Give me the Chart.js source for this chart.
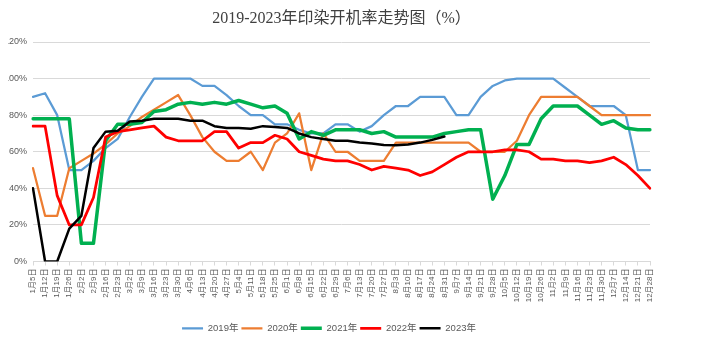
<!DOCTYPE html>
<html>
<head>
<meta charset="utf-8">
<script src="https://cdn.jsdelivr.net/npm/chart.js@4.4.0/dist/chart.umd.min.js"></script>
<style>
  html, body { margin: 0; padding: 0; background: #fff; }
  #wrap { position: absolute; left: 8px; top: 0; width: 699px; height: 349px; overflow: hidden; }
  #box { position: absolute; left: -12px; top: 0; width: 711px; height: 349px; }
</style>
</head>
<body>
<div id="wrap"><div id="box"><canvas id="c"></canvas></div></div>
<script>
// Weekly sample dates
const weeks = [
  '1月5日','1月12日','1月19日','1月26日','2月2日','2月9日','2月16日','2月23日',
  '3月2日','3月9日','3月16日','3月23日','3月30日','4月6日','4月13日','4月20日','4月27日',
  '5月4日','5月11日','5月18日','5月25日','6月1日','6月8日','6月15日','6月22日','6月29日',
  '7月6日','7月13日','7月20日','7月27日','8月3日','8月10日','8月17日','8月24日','8月31日',
  '9月7日','9月14日','9月21日','9月28日','10月5日','10月12日','10月19日','10月26日',
  '11月2日','11月9日','11月16日','11月23日','11月30日','12月7日','12月14日','12月21日','12月28日'
];

// Operating rate (%) by year
const rate2019 = [90, 92, 80, 50, 50, 55, 62, 67, 79, 90, 100, 100, 100, 100, 96, 96, 91, 85,
                  80, 80, 75, 75, 72, 70, 70, 75, 75, 71, 74, 80, 85, 85, 90, 90, 90,
                  80, 80, 90, 96, 99, 100, 100, 100, 100, 95, 90, 85, 85, 85, 80, 50, 50];
const rate2020 = [51, 25, 25, 51, 55, 59, 64, 70, 74, 79, 83, 87, 91, 80, 68, 60, 55, 55,
                  60, 50, 65, 70, 81, 50, 70, 60, 60, 55, 55, 55, 65, 65, 65, 65, 65,
                  65, 65, 60, 60, 60, 66, 80, 90, 90, 90, 90, 85, 80, 80, 80, 80, 80];
const rate2021 = [78, 78, 78, 78, 10, 10, 66, 75, 75, 76, 82, 83, 86, 87, 86, 87, 86, 88,
                  86, 84, 85, 81, 67, 71, 69, 72, 72, 72, 70, 71, 68, 68, 68, 68, 70,
                  71, 72, 72, 34, 47, 64, 64, 78, 85, 85, 85, 80, 75, 77, 73, 72, 72];
const rate2022 = [74, 74, 36, 20, 20, 35, 68, 71, 72, 73, 74, 68, 66, 66, 66, 71, 71, 62,
                  65, 65, 69, 67, 60, 58, 56, 55, 55, 53, 50, 52, 51, 50, 47, 49, 53,
                  57, 60, 60, 60, 61, 61, 60, 56, 56, 55, 55, 54, 55, 57, 53, 47, 40];
const rate2023 = [40, 0, 0, 18, 25, 62, 71, 71.5, 76.5, 77, 78, 78, 78, 77, 77, 74, 73, 73,
                  72.6, 74, 73.5, 73, 70, 68, 67, 66, 66, 65, 64.5, 63.7, 63.5, 64, 65, 66.5, 68.3,
                  null, null, null, null, null, null, null, null, null, null, null, null, null, null, null, null, null];

const yTicks = [0, 20, 40, 60, 80, 100, 120];

const series = [
  { label: '2019年', data: rate2019, color: '#5B9BD5', width: 2.25 },
  { label: '2020年', data: rate2020, color: '#ED7D31', width: 2.25 },
  { label: '2021年', data: rate2021, color: '#00B050', width: 3.5 },
  { label: '2022年', data: rate2022, color: '#FF0000', width: 2.75 },
  { label: '2023年', data: rate2023, color: '#000000', width: 2.5 }
];

const textFont = 'Liberation Sans, "Noto Sans CJK SC", sans-serif';

new Chart(document.getElementById('c'), {
  type: 'line',
  data: {
    labels: weeks,
    datasets: series.map((s, i) => ({
      label: s.label,
      data: s.data,
      borderColor: s.color,
      backgroundColor: s.color,
      borderWidth: s.width,
      pointRadius: 0,
      pointHoverRadius: 0,
      tension: 0,
      spanGaps: false,
      order: series.length - i,
      borderCapStyle: 'round',
      borderJoinStyle: 'round'
    }))
  },
  options: {
    responsive: true,
    maintainAspectRatio: false,
    animation: false,
    layout: { padding: { left: 12, right: 57, top: 0, bottom: 6 } },
    plugins: {
      tooltip: { enabled: false },
      title: {
        display: true,
        fullSize: false,
        text: '2019-2023年印染开机率走势图（%）',
        color: '#404040',
        font: { family: 'Liberation Serif, "Noto Sans CJK SC", serif', size: 16, weight: 'normal' },
        padding: { top: 9, bottom: 13.8 }
      },
      legend: {
        position: 'bottom',
        labels: {
          usePointStyle: true,
          pointStyle: 'line',
          pointStyleWidth: 21,
          padding: 3,
          color: '#595959',
          font: { family: textFont, size: 9.5 },
          sort: (a, b) => a.datasetIndex - b.datasetIndex
        }
      }
    },
    scales: {
      x: {
        offset: false,
        grid: { display: true, drawOnChartArea: false, drawTicks: true, tickLength: 4, color: '#d9d9d9' },
        border: { display: true, color: '#d9d9d9' },
        ticks: {
          autoSkip: false,
          minRotation: 90,
          maxRotation: 90,
          padding: 3,
          color: '#595959',
          font: { family: textFont, size: 8 }
        },
        afterFit: (scale) => { scale.height = 59; }
      },
      y: {
        min: 0,
        max: 120,
        afterBuildTicks: (scale) => { scale.ticks = yTicks.map(v => ({ value: v })); },
        grid: { color: '#d9d9d9', drawTicks: false },
        border: { display: false },
        ticks: {
          padding: 6,
          color: '#595959',
          font: { family: textFont, size: 9 },
          callback: (v) => v + '%'
        },
        afterFit: (scale) => { scale.width = 25; }
      }
    }
  }
});
</script>
</body>
</html>
